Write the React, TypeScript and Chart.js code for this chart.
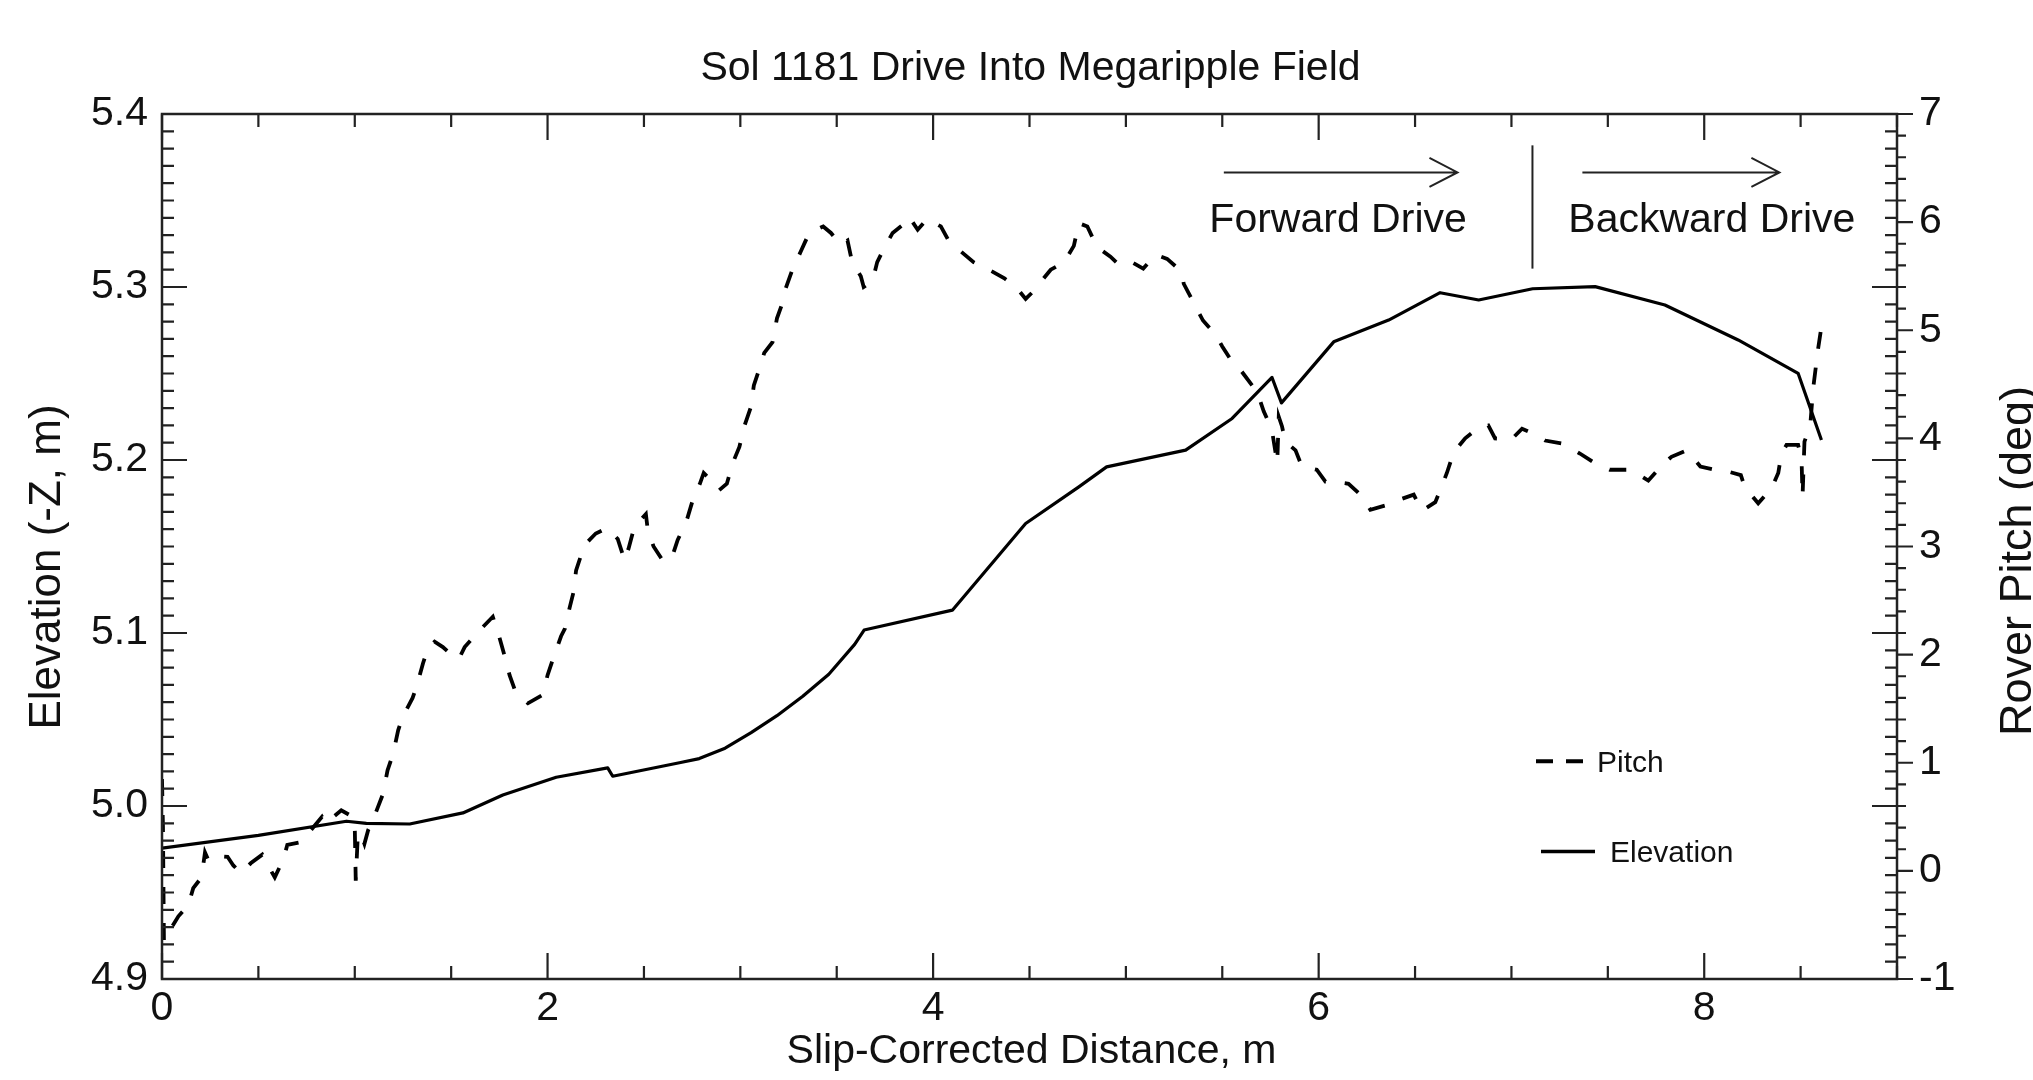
import React, { useEffect, useRef } from "react";
import { Chart, registerables } from "chart.js";

Chart.register(...registerables);

// ---- data ----
const elevationX = [
  0.0, 0.5, 0.957, 1.06, 1.285, 1.561, 1.768, 2.045, 2.312, 2.338, 2.684, 2.787,
  2.921, 3.056, 3.19, 3.324, 3.459, 3.593, 3.642, 4.1, 4.48, 4.756, 4.9, 5.31,
  5.551, 5.758, 5.807, 6.078, 6.363, 6.63, 6.83, 7.11, 7.434, 7.796, 8.176, 8.487, 8.608,
];
const elevationY = [
  4.9756, 4.983, 4.9912, 4.99, 4.9896, 4.996, 5.0064, 5.0166, 5.022, 5.0172, 5.025, 5.0274,
  5.0334, 5.0424, 5.0522, 5.0634, 5.0762, 5.0934, 5.1017, 5.1132, 5.1633, 5.1845, 5.196, 5.2057,
  5.224, 5.2477, 5.233, 5.2683, 5.2809, 5.2967, 5.2925, 5.299, 5.3002, 5.2896, 5.2694, 5.2501, 5.2116,
];

const pitchX = [
  0.0, 0.005, 0.01, 0.04, 0.085, 0.136, 0.162, 0.205, 0.223, 0.24, 0.27, 0.34,
  0.37, 0.41, 0.46, 0.52, 0.55, 0.585, 0.63, 0.65, 0.73, 0.76, 0.83, 0.85,
  0.93, 0.99, 1.0, 1.005, 1.015, 1.03, 1.05, 1.07, 1.09, 1.12, 1.146, 1.17,
  1.2, 1.225, 1.25, 1.3, 1.32, 1.354, 1.38, 1.414, 1.457, 1.5, 1.54, 1.57,
  1.61, 1.656, 1.716, 1.75, 1.777, 1.803, 1.837, 1.898, 1.976, 2.0, 2.036, 2.07,
  2.09, 2.114, 2.135, 2.148, 2.174, 2.2, 2.25, 2.31, 2.364, 2.4, 2.42, 2.45,
  2.51, 2.52, 2.55, 2.59, 2.64, 2.675, 2.72, 2.75, 2.79, 2.81, 2.865, 2.89,
  2.93, 2.96, 2.995, 3.02, 3.055, 3.07, 3.1, 3.124, 3.167, 3.19, 3.22, 3.236,
  3.27, 3.314, 3.357, 3.43, 3.47, 3.52, 3.556, 3.58, 3.625, 3.64, 3.685, 3.71,
  3.746, 3.79, 3.84, 3.875, 3.92, 3.97, 4.04, 4.083, 4.143, 4.21, 4.31, 4.37,
  4.43, 4.48, 4.52, 4.56, 4.61, 4.68, 4.73, 4.756, 4.8, 4.85, 4.92, 4.955,
  5.0, 5.03, 5.09, 5.154, 5.214, 5.29, 5.3, 5.344, 5.4, 5.465, 5.5, 5.55,
  5.6, 5.655, 5.69, 5.715, 5.74, 5.76, 5.785, 5.793, 5.81, 5.827, 5.88, 5.913,
  5.966, 5.99, 6.035, 6.078, 6.155, 6.216, 6.268, 6.346, 6.415, 6.493, 6.536, 6.605,
  6.63, 6.665, 6.7, 6.76, 6.83, 6.88, 6.915, 7.0, 7.055, 7.12, 7.175, 7.27,
  7.355, 7.425, 7.51, 7.62, 7.71, 7.78, 7.83, 7.91, 7.98, 8.055, 8.13, 8.19,
  8.21, 8.28, 8.35, 8.384, 8.4, 8.427, 8.487, 8.505, 8.51, 8.52, 8.55, 8.565,
  8.59, 8.617,
];
const pitchY = [
  0.85, 0.4, -0.65, -0.55, -0.42, -0.32, -0.16, -0.06, 0.17, 0.1, 0.14, 0.13,
  0.05, -0.02, 0.07, 0.15, 0.05, -0.06, 0.11, 0.24, 0.27, 0.35, 0.5, 0.44,
  0.56, 0.5, 0.4, -0.09, 0.3, 0.35, 0.25, 0.38, 0.45, 0.59, 0.71, 0.93,
  1.09, 1.3, 1.43, 1.6, 1.7, 1.92, 2.06, 2.12, 2.07, 2.0, 1.96, 2.07,
  2.15, 2.24, 2.35, 2.16, 1.99, 1.81, 1.64, 1.55, 1.63, 1.81, 2.0, 2.17,
  2.24, 2.43, 2.58, 2.78, 2.92, 3.03, 3.12, 3.17, 3.07, 2.87, 2.98, 3.18,
  3.3, 3.15, 3.0, 2.89, 2.87, 3.06, 3.23, 3.41, 3.58, 3.68, 3.58, 3.52,
  3.58, 3.77, 3.92, 4.11, 4.29, 4.49, 4.65, 4.79, 4.89, 5.11, 5.26, 5.39,
  5.56, 5.73, 5.9, 5.96, 5.9, 5.79, 5.83, 5.63, 5.5, 5.4, 5.45, 5.63,
  5.76, 5.9, 5.97, 6.05, 5.93, 6.03, 5.96, 5.82, 5.73, 5.63, 5.54, 5.48,
  5.4, 5.29, 5.36, 5.45, 5.56, 5.63, 5.78, 5.99, 5.96, 5.77, 5.68, 5.62,
  5.65, 5.63, 5.57, 5.7, 5.66, 5.54, 5.43, 5.28, 5.09, 4.96, 4.85, 4.71,
  4.62, 4.49, 4.38, 4.25, 4.15, 4.05, 3.77, 4.2, 4.11, 3.97, 3.89, 3.74,
  3.72, 3.71, 3.6, 3.6, 3.58, 3.48, 3.34, 3.38, 3.43, 3.48, 3.33, 3.41,
  3.52, 3.68, 3.87, 4.0, 4.1, 4.12, 4.0, 3.99, 4.09, 4.04, 3.98, 3.95,
  3.86, 3.78, 3.71, 3.71, 3.61, 3.75, 3.83, 3.89, 3.74, 3.71, 3.69, 3.66,
  3.55, 3.4, 3.54, 3.68, 3.85, 3.94, 3.94, 3.8, 3.46, 3.97, 4.12, 4.46,
  4.82, 5.14,
];

const xTicks = [0, 2, 4, 6, 8];
const elevationTicks = [4.9, 5.0, 5.1, 5.2, 5.3, 5.4];
const pitchTicks = [-1, 0, 1, 2, 3, 4, 5, 6, 7];

const chartTitle = "Sol 1181 Drive Into Megaripple Field";
const xTitle = "Slip-Corrected Distance, m";
const yLeftTitle = "Elevation (-Z, m)";
const yRightTitle = "Rover Pitch (deg)";
const forwardLabel = "Forward Drive";
const backwardLabel = "Backward Drive";
const legendPitch = "Pitch";
const legendElevation = "Elevation";

const FONT = "'Liberation Sans', Arial, Helvetica, sans-serif";
const INK = "#111111";

const decorations = {
  id: "decorations",
  afterDraw(chart: any) {
    const { ctx, chartArea: a, scales } = chart;
    const sx = scales.x;
    const sy = scales.y;
    const sp = scales.y2;
    ctx.save();

    // frame
    ctx.strokeStyle = "#222";
    ctx.lineWidth = 2.5;
    ctx.strokeRect(a.left, a.top, a.right - a.left, a.bottom - a.top);

    // ticks
    ctx.lineWidth = 2.2;
    ctx.beginPath();
    for (let i = 0; i <= 18; i++) {
      const px = sx.getPixelForValue(i * 0.5);
      const L = i % 4 === 0 ? 26 : 13;
      ctx.moveTo(px, a.bottom);
      ctx.lineTo(px, a.bottom - L);
      ctx.moveTo(px, a.top);
      ctx.lineTo(px, a.top + L);
    }
    for (let i = 0; i <= 50; i++) {
      const py = sy.getPixelForValue(4.9 + i * 0.01);
      const L = i % 10 === 0 ? 25 : 12;
      ctx.moveTo(a.left, py);
      ctx.lineTo(a.left + L, py);
      ctx.moveTo(a.right, py);
      ctx.lineTo(a.right - L, py);
    }
    for (let i = 0; i <= 40; i++) {
      const py = sp.getPixelForValue(-1 + i * 0.2);
      const L = i % 5 === 0 ? 16 : 9;
      ctx.moveTo(a.right, py);
      ctx.lineTo(a.right + L, py);
    }
    ctx.stroke();

    // chart title
    ctx.fillStyle = INK;
    ctx.textAlign = "center";
    ctx.textBaseline = "alphabetic";
    ctx.font = `41px ${FONT}`;
    const midX = (a.left + a.right) / 2;
    ctx.fillText(chartTitle, midX + 1, 80);

    // axis titles
    ctx.fillText(xTitle, midX + 2, 1063);
    ctx.font = `44px ${FONT}`;
    ctx.save();
    ctx.translate(60, 567);
    ctx.rotate(-Math.PI / 2);
    ctx.fillText(yLeftTitle, 0, 0);
    ctx.restore();
    ctx.font = `45px ${FONT}`;
    ctx.save();
    ctx.translate(2031, 561);
    ctx.rotate(-Math.PI / 2);
    ctx.fillText(yRightTitle, 0, 0);
    ctx.restore();

    // drive annotations (placed in data coordinates)
    const arrowY = sp.getPixelForValue(6.46);
    const drawArrow = (x0: number, x1: number) => {
      const p0 = sx.getPixelForValue(x0);
      const p1 = sx.getPixelForValue(x1);
      ctx.beginPath();
      ctx.moveTo(p0, arrowY);
      ctx.lineTo(p1, arrowY);
      ctx.moveTo(p1 - 28, arrowY - 14.5);
      ctx.lineTo(p1, arrowY);
      ctx.lineTo(p1 - 28, arrowY + 14.5);
      ctx.stroke();
    };
    ctx.strokeStyle = "#222";
    ctx.lineWidth = 2;
    drawArrow(5.508, 6.72);
    drawArrow(7.368, 8.39);
    const divX = sx.getPixelForValue(7.109);
    ctx.beginPath();
    ctx.moveTo(divX, sp.getPixelForValue(6.71));
    ctx.lineTo(divX, sp.getPixelForValue(5.57));
    ctx.stroke();

    ctx.font = `41px ${FONT}`;
    ctx.textAlign = "left";
    const labelBase = sp.getPixelForValue(5.91);
    ctx.fillText(forwardLabel, sx.getPixelForValue(5.433), labelBase);
    ctx.fillText(backwardLabel, sx.getPixelForValue(7.295), labelBase);

    // legend
    ctx.strokeStyle = "#000";
    ctx.lineWidth = 4;
    const lp = sp.getPixelForValue(1.015);
    ctx.beginPath();
    ctx.moveTo(1536, lp);
    ctx.lineTo(1553, lp);
    ctx.moveTo(1566, lp);
    ctx.lineTo(1583, lp);
    ctx.stroke();
    const le = sp.getPixelForValue(0.18);
    ctx.lineWidth = 3.5;
    ctx.beginPath();
    ctx.moveTo(1541, le);
    ctx.lineTo(1595, le);
    ctx.stroke();
    ctx.font = `30px ${FONT}`;
    ctx.fillText(legendPitch, 1597, lp + 11);
    ctx.fillText(legendElevation, 1610, le + 11);

    ctx.restore();
  },
};

export default function App() {
  const ref = useRef<HTMLCanvasElement | null>(null);

  useEffect(() => {
    if (!ref.current) return;
    const elevationData = elevationX.map((x, i) => ({ x, y: elevationY[i] }));
    const pitchData = pitchX.map((x, i) => ({ x, y: pitchY[i] }));
    const tickFont = { family: FONT, size: 41 };

    const chart = new Chart(ref.current, {
      type: "line",
      data: {
        datasets: [
          {
            label: legendPitch,
            data: pitchData,
            yAxisID: "y2",
            borderColor: "#000",
            borderWidth: 3.8,
            borderDash: [17, 19],
            pointRadius: 0,
            fill: false,
            tension: 0,
          },
          {
            label: legendElevation,
            data: elevationData,
            yAxisID: "y",
            borderColor: "#000",
            borderWidth: 3.2,
            borderJoinStyle: "round",
            pointRadius: 0,
            fill: false,
            tension: 0,
          },
        ],
      },
      options: {
        responsive: false,
        animation: false,
        devicePixelRatio: 1,
        layout: { padding: { top: 114, left: 0, right: 0, bottom: 0 } },
        plugins: {
          legend: { display: false },
          tooltip: { enabled: false },
          title: { display: false },
        },
        scales: {
          x: {
            type: "linear",
            min: 0,
            max: 9,
            afterFit: (s: any) => {
              s.height = 101;
            },
            afterBuildTicks: (s: any) => {
              s.ticks = xTicks.map((v) => ({ value: v }));
            },
            grid: { display: false, drawTicks: false },
            border: { display: false },
            ticks: {
              font: tickFont,
              color: INK,
              padding: 5,
              maxRotation: 0,
              autoSkip: false,
              callback: (v: any) => String(v),
            },
          },
          y: {
            type: "linear",
            position: "left",
            min: 4.9,
            max: 5.4,
            afterFit: (s: any) => {
              s.width = 162;
            },
            afterBuildTicks: (s: any) => {
              s.ticks = elevationTicks.map((v) => ({ value: v }));
            },
            grid: { display: false, drawTicks: false },
            border: { display: false },
            ticks: {
              font: tickFont,
              color: INK,
              padding: 14,
              autoSkip: false,
              callback: (v: any) => Number(v).toFixed(1),
            },
          },
          y2: {
            type: "linear",
            position: "right",
            min: -1,
            max: 7,
            afterFit: (s: any) => {
              s.width = 136;
            },
            afterBuildTicks: (s: any) => {
              s.ticks = pitchTicks.map((v) => ({ value: v }));
            },
            grid: { display: false, drawTicks: false },
            border: { display: false },
            ticks: {
              font: tickFont,
              color: INK,
              padding: 22,
              autoSkip: false,
              callback: (v: any) => String(v),
            },
          },
        },
      },
      plugins: [decorations],
    } as any);

    return () => chart.destroy();
  }, []);

  return (
    <div style={{ position: "fixed", left: 0, top: 0, width: 2033, height: 1080, background: "#fff" }}>
      <canvas ref={ref} width={2033} height={1080} style={{ display: "block" }} />
    </div>
  );
}
